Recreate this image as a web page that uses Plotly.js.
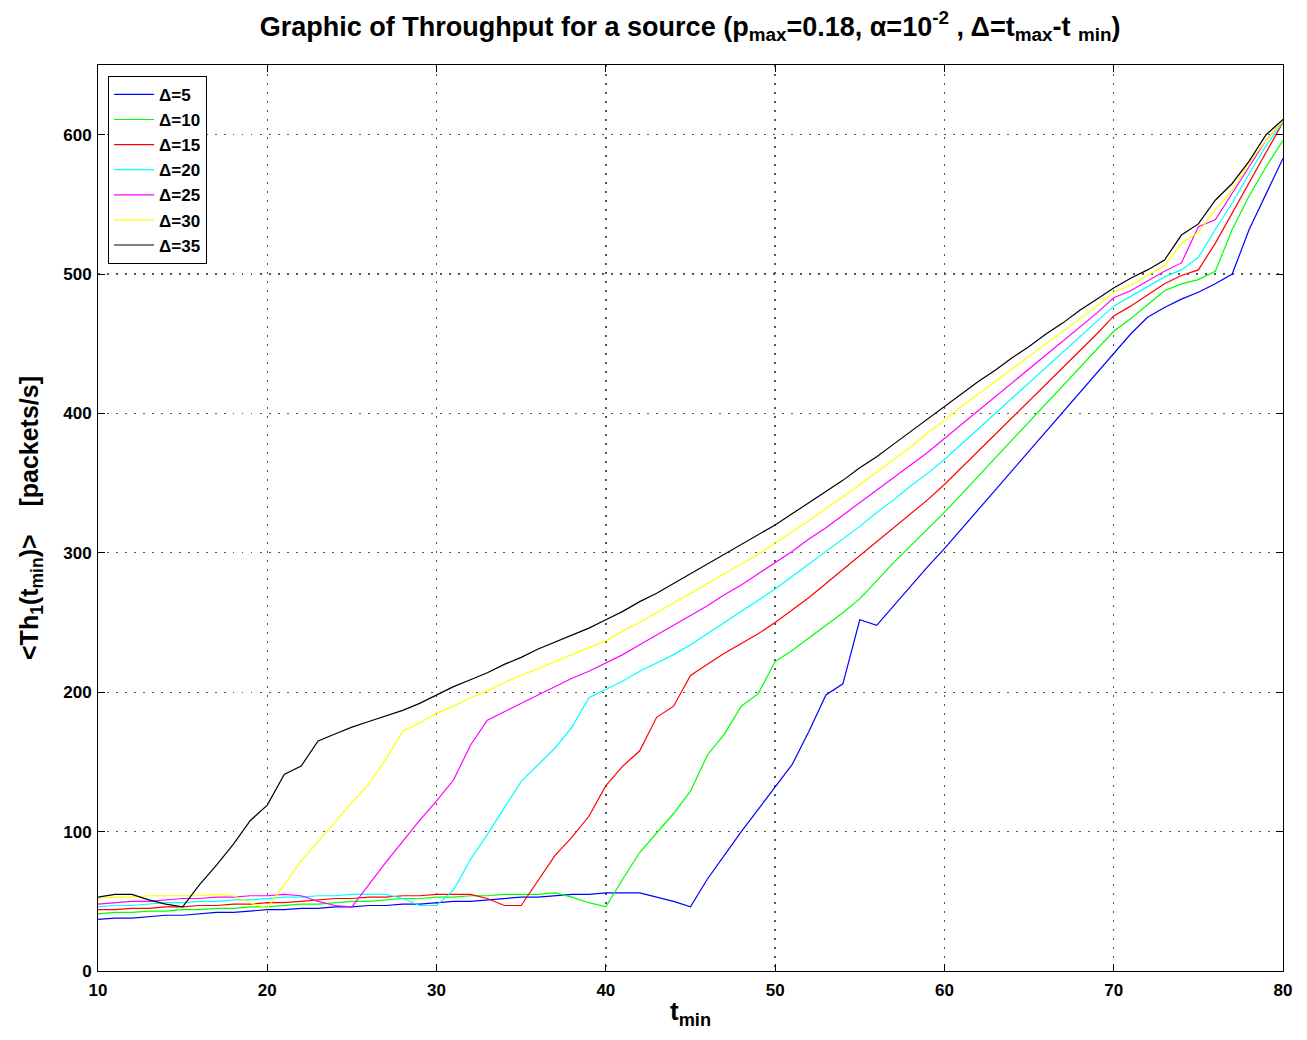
<!DOCTYPE html>
<html>
<head>
<meta charset="utf-8">
<script src="https://cdn.plot.ly/plotly-3.0.1.min.js"></script>
<style>html,body{margin:0;padding:0;background:#fff;}#chart{width:1307px;height:1040px;}</style>
</head>
<body>
<div id="chart"></div>
<script>
// t_min values
const tmin = [];
for (let t = 10; t <= 80; t++) tmin.push(t);

const seriesNames = ["Δ=5", "Δ=10", "Δ=15", "Δ=20", "Δ=25", "Δ=30", "Δ=35"];
const seriesColors = ["#0000ff", "#00ff00", "#ff0000", "#00ffff", "#ff00ff", "#ffff00", "#000000"];

const d5 = [37,38,38,39,40,40,41,42,42,43, 44,44,45,45,46,46,47,47,48,48, 49,50,50,51,52,53,53,54,55,55,
  56,56,56,53,50,46,66,83,100,116, 132,148,172,198,206,252,248,262,276,290, 303,317,331,345,359,373,387,401,415,429,
  443,457,469,476,482,487,493,500,532,558, 583];
const d10 = [41,42,42,43,43,44,44,45,45,46, 46,47,48,48,49,50,50,51,52,52, 53,53,54,54,55,55,55,56,53,49,
  46,66,85,99,113,129,155,170,190,199, 222,230,239,248,257,267,280,293,305,317, 329,342,355,368,381,394,407,420,433,446,
  459,468,478,488,493,496,502,532,556,577, 596];
const d15 = [44,44,45,45,46,46,47,47,48,48, 49,49,50,51,52,52,53,53,54,54, 55,55,55,52,47,47,65,83,96,111,
  133,147,158,182,190,212,220,228,235,242, 250,259,268,278,288,298,308,318,328,338, 349,361,373,385,397,409,421,433,445,457,
  470,477,485,493,499,503,522,544,565,587, 609];
const d20 = [46,47,47,48,49,49,50,50,51,51, 52,53,53,54,54,55,55,55,52,47, 47,58,80,98,117,136,148,160,175,196,
  202,208,215,221,227,234,242,250,258,266, 274,283,292,301,310,319,329,338,348,357, 367,378,389,400,411,422,433,444,455,466,
  477,484,491,498,503,512,532,551,572,592, 609];
const d25 = [48,49,50,50,51,52,52,53,53,54, 54,55,54,50,47,46,62,78,93,108, 122,137,162,180,186,192,198,204,210,215,
  221,227,234,241,248,255,262,270,277,285, 293,301,310,318,327,336,345,354,363,372, 382,392,402,412,422,432,442,452,462,472,
  483,488,495,502,508,534,539,558,577,596, 610];
const d30 = [52,53,53,54,54,54,54,55,54,49, 45,62,79,93,107,121,134,152,172,178, 185,190,196,201,207,212,217,222,227,232,
  237,244,250,257,264,271,278,285,292,299, 307,315,323,332,340,349,358,367,376,386, 395,405,414,423,432,441,450,459,468,477,
  487,492,499,506,522,530,546,560,580,596, 610];
const d35 = [53,55,55,51,48,46,62,76,91,108, 119,141,147,165,170,175,179,183,187,192, 198,204,209,214,220,225,231,236,241,246,
  252,258,265,271,278,285,292,299,306,313, 320,328,336,344,352,361,369,378,387,396, 405,414,423,431,440,448,457,465,474,482,
  490,497,503,510,528,536,553,565,581,600, 611];

const seriesValues = [d5, d10, d15, d20, d25, d30, d35];

const xTicks = [10, 20, 30, 40, 50, 60, 70, 80];
const yTicks = [0, 100, 200, 300, 400, 500, 600];

const FONT = "Liberation Sans, Arial, Helvetica, sans-serif";

const traces = seriesValues.map((vals, i) => ({
  x: tmin,
  y: vals,
  type: "scatter",
  mode: "lines",
  name: seriesNames[i],
  line: { color: seriesColors[i], width: 1.2 }
}));

const axisCommon = {
  showline: true,
  linecolor: "#000",
  linewidth: 1,
  mirror: "allticks",
  ticks: "inside",
  ticklen: 7,
  tickcolor: "#000",
  showgrid: true,
  gridcolor: "#555",
  griddash: "1.5px,7.5px",
  gridwidth: 1.3,
  zeroline: false,
  tickfont: { family: FONT, size: 17, color: "#000", weight: "bold" }
};

const layout = {
  width: 1307,
  height: 1040,
  paper_bgcolor: "#fff",
  plot_bgcolor: "#fff",
  margin: { l: 98, r: 24, t: 65, b: 69 },
  showlegend: true,
  title: {
    text: "Graphic of Throughput for a source (p<sub>max</sub>=0.18, α=10<sup>-2</sup> , Δ=t<sub>max</sub>-t <sub>min</sub>)",
    font: { family: FONT, size: 27, color: "#000", weight: "bold" },
    x: 0.528,
    xanchor: "center",
    y: 0.984,
    yanchor: "top"
  },
  xaxis: Object.assign({}, axisCommon, {
    range: [10, 80],
    tickvals: xTicks,
    ticktext: xTicks.map(String),
    ticklabelstandoff: 4,
    title: { text: "t<sub>min</sub>", font: { family: FONT, size: 26, color: "#000", weight: "bold" }, standoff: 2 }
  }),
  yaxis: Object.assign({}, axisCommon, {
    range: [0, 650],
    tickvals: yTicks,
    ticktext: yTicks.map(String),
    ticklabelstandoff: 2,
    title: { text: "<Th<sub>1</sub>(t<sub>min</sub>)>    [packets/s]", font: { family: FONT, size: 25, color: "#000", weight: "bold" }, standoff: 17 }
  }),
  legend: {
    x: 0.0085,
    y: 0.988,
    xanchor: "left",
    yanchor: "top",
    bgcolor: "#fff",
    bordercolor: "#000",
    borderwidth: 1,
    font: { family: FONT, size: 17, color: "#000", weight: "bold" },
    tracegroupgap: 0,
    itemwidth: 40
  }
};

Plotly.newPlot("chart", traces, layout, { displayModeBar: false, staticPlot: true });
</script>
</body>
</html>
